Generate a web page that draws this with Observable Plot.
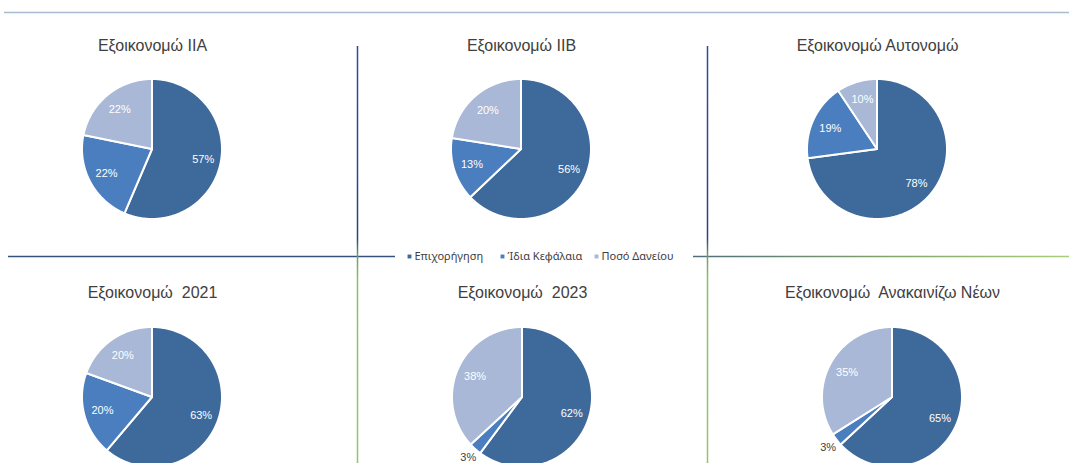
<!DOCTYPE html>
<html><head><meta charset="utf-8">
<script src="https://cdn.jsdelivr.net/npm/d3@7"></script>
<script src="https://cdn.jsdelivr.net/npm/@observablehq/plot@0.6"></script>
<style>
html,body{margin:0;padding:0;background:#fff;overflow:hidden;}
svg text{white-space:pre;}
</style></head><body><div id="chart"></div>
<script>
// ---- data ----
const series = ["Επιχορήγηση", "Ίδια Κεφάλαια", "Ποσό Δανείου"];
const programs = ["Εξοικονομώ IIA", "Εξοικονομώ IIB", "Εξοικονομώ Αυτονομώ",
                  "Εξοικονομώ  2021", "Εξοικονομώ  2023", "Εξοικονομώ  Ανακαινίζω Νέων"];
const grant    = [57, 56, 78, 63, 62, 65];
const ownFunds = [22, 13, 19, 20, 3, 3];
const loan     = [22, 20, 10, 20, 38, 35];
const colors = ["#3e699b", "#4a7ebf", "#a8b8d6"];

// ---- layout ----
const W = 1069, H = 463, R = 70;
const centers = [[152,149],[521,149],[877,149],[152,397],[522,397],[892,397]];
const titleY = [45, 45, 45, 292, 292, 292];
const legendX = [409, 502, 596];
const legendY = 256;
const topLine = [{y: 12, x1: 4, x2: W}];
const midLeft = [{y: 256, x1: 8, x2: 395}];
const midRight = [{y: 256, x1: 693, x2: W}];
const vLines = [{x: 357, y1: 46, y2: H}, {x: 707, y1: 46, y2: H}];

const slices = [], inLabels = [], outLabels = [];
programs.forEach((p, i) => {
  const vals = [grant[i], ownFunds[i], loan[i]];
  const arcs = d3.pie().sort(null)(vals);
  const [cx, cy] = centers[i];
  arcs.forEach((a, j) => {
    const n = Math.max(2, Math.ceil((a.endAngle - a.startAngle) / 0.01));
    for (let k = 0; k <= n; k++) {
      const t = a.startAngle + (a.endAngle - a.startAngle) * k / n;
      slices.push({key: i + "-" + j, series: series[j], x: cx + R * Math.sin(t), y: cy - R * Math.cos(t), cx, cy});
    }
    const mid = (a.startAngle + a.endAngle) / 2;
    const inside = vals[j] >= 5;
    const rr = inside ? R * 0.74 : R * 1.16;
    (inside ? inLabels : outLabels).push({x: cx + rr * Math.sin(mid), y: cy - rr * Math.cos(mid), text: vals[j] + "%"});
  });
});

const plot = Plot.plot({
  width: W, height: H, margin: 0,
  x: {domain: [0, W], range: [0, W], axis: null},
  y: {domain: [0, H], range: [0, H], axis: null},
  color: {domain: series, range: colors},
  style: {background: "#fff", fontFamily: "'Liberation Sans', Arial, sans-serif"},
  marks: [
    Plot.ruleY(topLine, {y: "y", x1: "x1", x2: "x2", stroke: "#a9bccf", strokeWidth: 1.5}),
    Plot.ruleY(midLeft, {y: "y", x1: "x1", x2: "x2", stroke: "#34537c", strokeWidth: 1.5}),
    Plot.ruleY(midRight, {y: "y", x1: "x1", x2: "x2", stroke: "url(#gh)", strokeWidth: 1.5}),
    Plot.ruleX(vLines, {x: "x", y1: "y1", y2: "y2", stroke: "url(#gv)", strokeWidth: 1.5}),
    Plot.area(slices, {x1: "x", y1: "y", x2: "cx", y2: "cy", z: "key", fill: "series",
                       stroke: "white", strokeWidth: 2, strokeLinejoin: "round"}),
    Plot.text(inLabels, {x: "x", y: "y", text: "text", fill: "white", fontSize: 11}),
    Plot.text(outLabels, {x: "x", y: "y", text: "text", fill: "#404040", fontSize: 11}),
    Plot.text(programs, {x: (d, i) => centers[i][0], y: (d, i) => titleY[i], text: d => d,
                         fontSize: 16, fill: "#404040"}),
    Plot.dot(series, {x: (d, i) => legendX[i], y: () => legendY, symbol: "square", r: 2.2, fill: d => d}),
    Plot.text(series, {x: (d, i) => legendX[i] + 5, y: () => legendY, text: d => d, textAnchor: "start",
                       fontSize: 11, fontFamily: "'Noto Sans', sans-serif", fill: "#404040"})
  ]
});

const defs = d3.select(plot).insert("defs", ":first-child");
const gv = defs.append("linearGradient").attr("id", "gv").attr("gradientUnits", "userSpaceOnUse")
  .attr("x1", 0).attr("y1", 46).attr("x2", 0).attr("y2", H);
[[0, "#3249a0"], [0.46, "#2c3f88"], [0.5, "#6f9c62"], [0.56, "#8cc063"], [1, "#94c56d"]]
  .forEach(([o, c]) => gv.append("stop").attr("offset", o).attr("stop-color", c));
const gh = defs.append("linearGradient").attr("id", "gh").attr("gradientUnits", "userSpaceOnUse")
  .attr("x1", 693).attr("y1", 0).attr("x2", W).attr("y2", 0);
[[0, "#4f6e7c"], [0.5, "#7fa36a"], [1, "#a9cd78"]]
  .forEach(([o, c]) => gh.append("stop").attr("offset", o).attr("stop-color", c));

document.getElementById("chart").appendChild(plot);
</script>
</body></html>
